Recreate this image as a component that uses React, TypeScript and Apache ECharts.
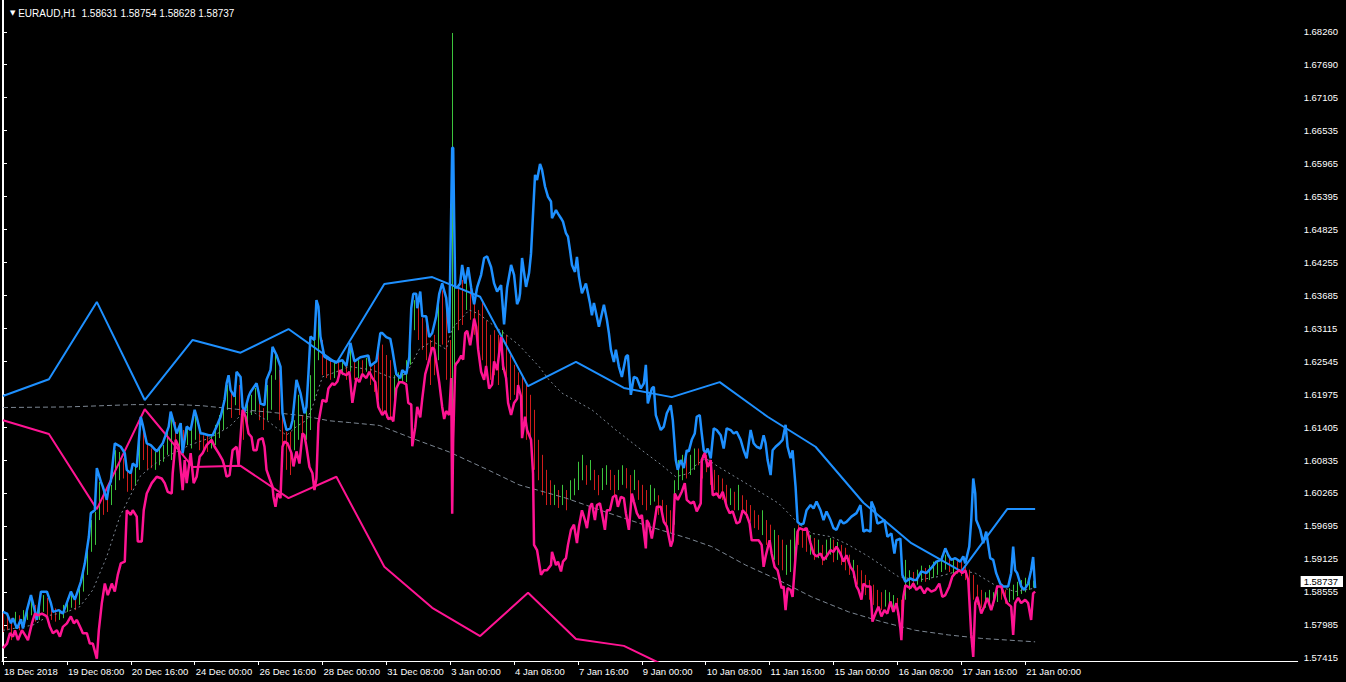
import { useEffect, useRef } from 'react';
import * as echarts from 'echarts';

// ---------- DATA (x = hourly bar index from 18 Dec 2018 00:00, y = price) ----------
const titleText = 'EURAUD,H1\u00a0\u00a01.58631 1.58754 1.58628 1.58737';
const lastClose = 1.58737;

const xTickIdx = [0, 32, 64, 96, 128, 160, 192, 224, 256, 288, 320, 352, 384, 416, 448, 480, 512];
const xLabels = ['18 Dec 2018', '19 Dec 08:00', '20 Dec 16:00', '24 Dec 00:00', '26 Dec 16:00', '28 Dec 00:00', '31 Dec 08:00', '3 Jan 00:00', '4 Jan 08:00', '7 Jan 16:00', '9 Jan 00:00', '10 Jan 08:00', '11 Jan 16:00', '15 Jan 00:00', '16 Jan 08:00', '17 Jan 16:00', '21 Jan 00:00'];

const yLabels = ['1.68260', '1.67690', '1.67105', '1.66535', '1.65965', '1.65395', '1.64825', '1.64255', '1.63685', '1.63115', '1.62545', '1.61975', '1.61405', '1.60835', '1.60265', '1.59695', '1.59125', '1.58555', '1.57985', '1.57415'];
const yMin = 1.57358;
const yMax = 1.68811;

const blueLine = [[0,1.5821],[2,1.5818],[4,1.5801],[5,1.5810],[7,1.5792],[9,1.5808],[10,1.5792],[12,1.5824],[14,1.5850],[15,1.5836],[17,1.5807],[19,1.5856],[22,1.5856],[24,1.5836],[25,1.5821],[28,1.5824],[30,1.5818],[34,1.5856],[36,1.5842],[39,1.5873],[41,1.5905],[43,1.5951],[44,1.5992],[46,1.5997],[47,1.6070],[49,1.6047],[50,1.6038],[52,1.6015],[53,1.6038],[54,1.6047],[56,1.6113],[59,1.6107],[61,1.6096],[62,1.6067],[64,1.6061],[65,1.6078],[67,1.6072],[69,1.6159],[70,1.6145],[72,1.6113],[74,1.6110],[77,1.6099],[80,1.6113],[83,1.6142],[84,1.6168],[87,1.6130],[89,1.6148],[90,1.6096],[92,1.6142],[94,1.6136],[96,1.6171],[97,1.6159],[99,1.6130],[100,1.6130],[103,1.6127],[105,1.6127],[107,1.6142],[109,1.6159],[111,1.6188],[112,1.6217],[113,1.6231],[114,1.6205],[116,1.6194],[117,1.6237],[119,1.6228],[120,1.6176],[121,1.6168],[123,1.6194],[124,1.6202],[127,1.6217],[128,1.6202],[129,1.6182],[131,1.6179],[132,1.6223],[134,1.6240],[135,1.6280],[137,1.6266],[139,1.6246],[140,1.6165],[142,1.6136],[144,1.6139],[145,1.6153],[147,1.6223],[149,1.6200],[151,1.6165],[152,1.6176],[153,1.6234],[154,1.6298],[156,1.6292],[157,1.6361],[158,1.6350],[159,1.6298],[161,1.6263],[164,1.6257],[167,1.6254],[170,1.6257],[172,1.6247],[174,1.6287],[176,1.6255],[179,1.6262],[183,1.6265],[184,1.6247],[187,1.6255],[189,1.6304],[190,1.6304],[192,1.6297],[194,1.6294],[195,1.6276],[197,1.6233],[199,1.6226],[200,1.6240],[202,1.6233],[203.5,1.6262],[204.5,1.6347],[205.5,1.6372],[207,1.6372],[207.5,1.6347],[209,1.6376],[210,1.6333],[212,1.6333],[213.5,1.6297],[215,1.6304],[217,1.6333],[218.5,1.6372],[220,1.6390],[222,1.6365],[223.5,1.6304],[225,1.6625],[225.5,1.6625],[226,1.6497],[226.5,1.6383],[227.5,1.6383],[229,1.6390],[230,1.6422],[231.5,1.6390],[233,1.6418],[234.5,1.6383],[236,1.6354],[237.5,1.6383],[239.5,1.6405],[241,1.6434],[242.5,1.6437],[244.5,1.6418],[246,1.6390],[247.5,1.6376],[249.5,1.6387],[251,1.6319],[252.5,1.6383],[254.5,1.6422],[256,1.6405],[257.5,1.6354],[258.5,1.6362],[259,1.6373],[260,1.6434],[262,1.6384],[263.5,1.6408],[264.5,1.6442],[265.5,1.6511],[266.5,1.6578],[267.5,1.6569],[269,1.6597],[270,1.6587],[271.5,1.6558],[273,1.6540],[274.5,1.6532],[275,1.6503],[277,1.6517],[278,1.6511],[279.5,1.6503],[280.5,1.6497],[282,1.6477],[283,1.6471],[284,1.6448],[285,1.6422],[286.5,1.6410],[287.5,1.6436],[288.5,1.6402],[290,1.6373],[292,1.6390],[294,1.6356],[295,1.6335],[296,1.6356],[297.5,1.6332],[298.5,1.6315],[301,1.6353],[302.5,1.6327],[303.5,1.6304],[304.5,1.6275],[306,1.6254],[307,1.6275],[308.5,1.6246],[310,1.6228],[312,1.6263],[313,1.6266],[314.5,1.6197],[316,1.6228],[317.5,1.6226],[319.5,1.6208],[321,1.6217],[322,1.6249],[323,1.6182],[325,1.6208],[326,1.6211],[327,1.6162],[329.5,1.6136],[331,1.6142],[332.5,1.6165],[334.5,1.6179],[335.5,1.6153],[337,1.6084],[338,1.6067],[339.5,1.6084],[341,1.6070],[342.5,1.6101],[343.5,1.6099],[345,1.6119],[346.5,1.6130],[347.5,1.6159],[349,1.6162],[350,1.6130],[351,1.6101],[352,1.6096],[353,1.6104],[354.5,1.6087],[356,1.6139],[357.5,1.6136],[359.5,1.6127],[361,1.6104],[362.5,1.6139],[364.5,1.6136],[366,1.6130],[367.5,1.6133],[369.5,1.6119],[371,1.6101],[372.5,1.6087],[374.5,1.6136],[376,1.6113],[377.5,1.6107],[379.5,1.6104],[381,1.6127],[382,1.6113],[383,1.6084],[384.5,1.6058],[385.5,1.6101],[387,1.6107],[389,1.6113],[390.5,1.6119],[392,1.6145],[393,1.6107],[394.5,1.6087],[395.5,1.6101],[397,1.6038],[398,1.5977],[399.5,1.5972],[401,1.5974],[402.5,1.5997],[404.5,1.6006],[406,1.6000],[407.5,1.6012],[409.5,1.5997],[411,1.5980],[412.5,1.5995],[414.5,1.5980],[416,1.5966],[417.5,1.5963],[419.5,1.5980],[421,1.5974],[422.5,1.5977],[425,1.5986],[427.5,1.5992],[429.5,1.6006],[431,1.5960],[432.5,1.5963],[434.5,1.5960],[435,1.6012],[436.5,1.6000],[438,1.5974],[440,1.5977],[441.5,1.5980],[443,1.5951],[445,1.5957],[446.5,1.5922],[447.5,1.5945],[449.5,1.5948],[450.5,1.5885],[452,1.5873],[454.5,1.5879],[456,1.5876],[457.5,1.5876],[460,1.5891],[462.5,1.5888],[465,1.5897],[467.5,1.5908],[470,1.5911],[472,1.5931],[473.5,1.5919],[475,1.5911],[477,1.5914],[479.5,1.5908],[481,1.5917],[482,1.5905],[484,1.5934],[485,1.5980],[486,1.6052],[487,1.6026],[487.5,1.5980],[489.5,1.5963],[491,1.5940],[492.5,1.5960],[494.5,1.5914],[496,1.5911],[497.5,1.5888],[499.5,1.5870],[501,1.5865],[503.5,1.5865],[505,1.5888],[506,1.5934],[507,1.5893],[508,1.5888],[510,1.5865],[511.5,1.5859],[513.5,1.5870],[515,1.5893],[516,1.5916],[517,1.5862]];

const pinkLine = [[0,1.5758],[2,1.5766],[3.5,1.5784],[5,1.5778],[6,1.5789],[7.5,1.5772],[9.5,1.5789],[11,1.5781],[12.5,1.5772],[14.5,1.5801],[16,1.5818],[17.5,1.5815],[19.5,1.5818],[22,1.5813],[23.5,1.5795],[25,1.5784],[27,1.5789],[28.5,1.5778],[30,1.5795],[32,1.5801],[34,1.5813],[35.5,1.5801],[37,1.5807],[39,1.5792],[40,1.5784],[42,1.5784],[43.5,1.5766],[45,1.5766],[47,1.5740],[48,1.5789],[49.5,1.5836],[51,1.5870],[52.5,1.5850],[54.5,1.5870],[56,1.5856],[57.5,1.5885],[59,1.5905],[61,1.5908],[62,1.5997],[64,1.5989],[65,1.5997],[67,1.5986],[67.5,1.5943],[69.5,1.5943],[70.5,1.5997],[72,1.6026],[74.5,1.6044],[77,1.6055],[79.5,1.6052],[81,1.6044],[82.5,1.6029],[84.5,1.6026],[85,1.6061],[86.5,1.6119],[88,1.6107],[90,1.6032],[91,1.6084],[92,1.6044],[94,1.6096],[95.5,1.6044],[97,1.6055],[98.5,1.6090],[100,1.6096],[102,1.6110],[104.5,1.6119],[106,1.6107],[108,1.6096],[110,1.6084],[111,1.6072],[112,1.6055],[113.5,1.6058],[115,1.6101],[117,1.6107],[118,1.6075],[119,1.6124],[120,1.6171],[121.5,1.6159],[123,1.6130],[124.5,1.6124],[125.5,1.6101],[127,1.6101],[128,1.6119],[130,1.6122],[131,1.6107],[132,1.6067],[133.5,1.6052],[135,1.6038],[135.5,1.6020],[136.5,1.6003],[137.5,1.6026],[139,1.6018],[140,1.6107],[141,1.6116],[142.5,1.6113],[144.5,1.6096],[145.5,1.6073],[147,1.6099],[148.5,1.6078],[150,1.6130],[151,1.6127],[152,1.6107],[153.5,1.6072],[155,1.6061],[156,1.6032],[157,1.6052],[158,1.6148],[160,1.6188],[162,1.6185],[163,1.6208],[165,1.6217],[166,1.6214],[167.5,1.6220],[169,1.6240],[170,1.6234],[172,1.6231],[173.5,1.6237],[175,1.6183],[177,1.6226],[178.5,1.6219],[180,1.6233],[182,1.6226],[183.5,1.6237],[185,1.6226],[186.5,1.6219],[188,1.6176],[190,1.6162],[191.5,1.6169],[193,1.6155],[194.5,1.6158],[195.5,1.6151],[197,1.6208],[198.5,1.6219],[200,1.6219],[202,1.6215],[203,1.6183],[204.5,1.6180],[205,1.6108],[206.5,1.6141],[207.5,1.6176],[209,1.6158],[210,1.6190],[211.5,1.6233],[213,1.6251],[215,1.6279],[216,1.6276],[217,1.6254],[218.5,1.6219],[220,1.6176],[221,1.6155],[222,1.6169],[223.5,1.6162],[224.5,1.6226],[225,1.5991],[225.5,1.6119],[226.5,1.6247],[227,1.6251],[228,1.6255],[229.5,1.6265],[230.5,1.6258],[231.5,1.6304],[232.5,1.6308],[234,1.6283],[235,1.6304],[236,1.6329],[237,1.6315],[238,1.6276],[239.5,1.6237],[241,1.6223],[242,1.6247],[243.5,1.6208],[245,1.6215],[246,1.6255],[247.5,1.6240],[249.5,1.6297],[250.5,1.6247],[252,1.6226],[253,1.6183],[254.5,1.6162],[256,1.6183],[257.5,1.6190],[258,1.6214],[259.5,1.6194],[260,1.6122],[261.5,1.6159],[262.5,1.6136],[264.5,1.6119],[265.5,1.6061],[266,1.5937],[267.5,1.5928],[269.5,1.5885],[271,1.5893],[272.5,1.5893],[274.5,1.5902],[275,1.5925],[277,1.5902],[278,1.5908],[279.5,1.5891],[280.5,1.5908],[282,1.5914],[283,1.5937],[284.5,1.5963],[286,1.5972],[287.5,1.5940],[288.5,1.5969],[290,1.5997],[291.5,1.5980],[292.5,1.5966],[294,1.6003],[295,1.6009],[296.5,1.5980],[297.5,1.6006],[299,1.6009],[300,1.5992],[301.5,1.5963],[302.5,1.5997],[304,1.5997],[305.5,1.6020],[307,1.6023],[308,1.6003],[309.5,1.6020],[311,1.6018],[312,1.5992],[313.5,1.5963],[315,1.6026],[316,1.6012],[317.5,1.5992],[319,1.5983],[320,1.5989],[322,1.5931],[322.5,1.5980],[323.5,1.5974],[325,1.5948],[326,1.5969],[327.5,1.6003],[329.5,1.6003],[331,1.5977],[332.5,1.5969],[334.5,1.5934],[335.5,1.5945],[336.5,1.6026],[338,1.6015],[340,1.6029],[341.5,1.6044],[342.5,1.6015],[344.5,1.6009],[346,1.6012],[347.5,1.5995],[349.5,1.6009],[350,1.6084],[351.5,1.6096],[353,1.6072],[354.5,1.6084],[355.5,1.6023],[357.5,1.6026],[359,1.6018],[360.5,1.6029],[362.5,1.6003],[364,1.5992],[365.5,1.5995],[367.5,1.5974],[369,1.5977],[370.5,1.5997],[372.5,1.5989],[374,1.5974],[375,1.5945],[377,1.5945],[378.5,1.5945],[380,1.5937],[381,1.5899],[382,1.5917],[384,1.5945],[385,1.5922],[386.5,1.5899],[388,1.5893],[390,1.5862],[391,1.5865],[392,1.5824],[393,1.5862],[394.5,1.5859],[395.5,1.5847],[397,1.5917],[398,1.5960],[399,1.5966],[401,1.5963],[402.5,1.5966],[404.5,1.5940],[406,1.5922],[407.5,1.5917],[409.5,1.5922],[411,1.5911],[412.5,1.5917],[414.5,1.5928],[416,1.5925],[417.5,1.5934],[419.5,1.5922],[421,1.5908],[422.5,1.5919],[424.5,1.5899],[426,1.5891],[427.5,1.5865],[428.5,1.5859],[430,1.5842],[431,1.5870],[432.5,1.5865],[434.5,1.5865],[435.5,1.5804],[437,1.5818],[438.5,1.5830],[440,1.5813],[441.5,1.5824],[443,1.5818],[444.5,1.5839],[446,1.5821],[447.5,1.5836],[448.5,1.5818],[449.5,1.5792],[450,1.5772],[451,1.5847],[452,1.5867],[454.5,1.5862],[456,1.5870],[457.5,1.5859],[459.5,1.5865],[461.5,1.5853],[463,1.5862],[465,1.5856],[467,1.5859],[469,1.5870],[470.5,1.5847],[472,1.5850],[474,1.5865],[475.5,1.5882],[477,1.5888],[479,1.5893],[480.5,1.5888],[482,1.5893],[483.5,1.5876],[485,1.5781],[486,1.5743],[487,1.5836],[488,1.5847],[490,1.5818],[491.5,1.5830],[493,1.5845],[495,1.5824],[496.5,1.5842],[498,1.5865],[500,1.5865],[501.5,1.5850],[503,1.5836],[505,1.5830],[506,1.5781],[507,1.5836],[508.5,1.5845],[510,1.5836],[512,1.5842],[513.5,1.5836],[515,1.5807],[516,1.5853],[517,1.5856]];

const dayIdx = [0, 23, 47, 71, 95, 119, 143, 167, 191, 215, 239, 263, 287, 311, 335, 359, 383, 407, 431, 455, 480, 503, 517];
const dailyHigh = [1.6195, 1.6224, 1.6358, 1.6188, 1.6292, 1.6270, 1.6311, 1.6252, 1.6389, 1.6401, 1.6367, 1.6212, 1.6254, 1.6209, 1.6193, 1.6219, 1.6159, 1.6107, 1.6010, 1.5940, 1.5891, 1.5999, 1.5999];
const dailyLow = [1.6153, 1.6129, 1.5999, 1.6172, 1.6072, 1.6074, 1.6018, 1.6055, 1.5899, 1.5828, 1.5779, 1.5854, 1.5774, 1.5762, 1.5722, 1.5705, 1.5690, 1.5680, 1.5668, 1.5660, 1.5650, 1.5655, 1.5655];

const slowMA = [[0,1.6175],[32,1.6176],[48.5,1.6178],[65,1.6180],[88.5,1.6180],[100,1.6178],[117,1.6172],[133.5,1.6167],[150,1.6161],[163.5,1.6152],[173.5,1.6149],[188.5,1.6144],[207,1.6119],[223.5,1.6098],[243.5,1.6066],[258.5,1.6041],[282,1.6018],[303.5,1.5992],[323.5,1.5969],[343.5,1.5948],[355,1.5934],[372,1.5902],[388.5,1.5876],[405,1.5847],[423.5,1.5821],[440,1.5804],[457,1.5789],[473.5,1.5781],[490,1.5775],[517,1.5769]];

const fastMA = [[0,1.5789],[15,1.5798],[23.5,1.5815],[32,1.5821],[38.5,1.5830],[45,1.5859],[52,1.5917],[58.5,1.5986],[63.5,1.6020],[68.5,1.6055],[75,1.6075],[82,1.6090],[88.5,1.6101],[93.5,1.6110],[103.5,1.6122],[113.5,1.6142],[120,1.6165],[125,1.6168],[132,1.6153],[138.5,1.6136],[142,1.6127],[147,1.6142],[152,1.6153],[155,1.6176],[160,1.6228],[167,1.6237],[173.5,1.6246],[185,1.6240],[195,1.6226],[202,1.6233],[208.5,1.6276],[215,1.6290],[222,1.6276],[225,1.6312],[233.5,1.6344],[238.5,1.6337],[245,1.6319],[252,1.6301],[258.5,1.6283],[268.5,1.6246],[273.5,1.6223],[280,1.6200],[295,1.6171],[307,1.6136],[320,1.6101],[330,1.6075],[337,1.6055],[343.5,1.6061],[347,1.6075],[352,1.6087],[358.5,1.6072],[372,1.6044],[388.5,1.6009],[398.5,1.5974],[405,1.5957],[415,1.5951],[423.5,1.5937],[433.5,1.5917],[448.5,1.5882],[458.5,1.5876],[468.5,1.5882],[480,1.5893],[487,1.5888],[497,1.5867],[507,1.5856],[517,1.5862]];

// [bar index, low, high, up(1)/down(0)]
const priceBars = [[0,1.5786,1.5821,0],[2,1.5789,1.5815,0],[4,1.5772,1.5810,0],[6,1.5792,1.5821,1],[8,1.5789,1.5815,0],[10,1.5798,1.5824,1],[12,1.5807,1.5833,1],[14,1.5815,1.5845,1],[16,1.5804,1.5833,0],[18,1.5807,1.5842,1],[20,1.5821,1.5850,1],[22,1.5815,1.5845,0],[24,1.5807,1.5833,0],[26,1.5804,1.5827,0],[28,1.5807,1.5824,1],[30,1.5810,1.5833,1],[32,1.5821,1.5845,1],[34,1.5828,1.5856,1],[36,1.5824,1.5850,0],[38,1.5833,1.5867,1],[40,1.5856,1.5897,1],[42,1.5885,1.5937,1],[44,1.5925,1.5980,1],[46,1.5937,1.5994,1],[48,1.5980,1.6046,1],[50,1.5989,1.6032,0],[52,1.5994,1.6023,0],[54,1.6006,1.6041,1],[56,1.6032,1.6101,1],[58,1.6049,1.6098,1],[60,1.6052,1.6087,0],[62,1.6029,1.6067,0],[64,1.6032,1.6061,0],[66,1.6041,1.6075,1],[68,1.6067,1.6145,1],[70,1.6084,1.6136,0],[72,1.6067,1.6110,0],[74,1.6070,1.6104,0],[76,1.6067,1.6098,1],[78,1.6075,1.6104,1],[80,1.6081,1.6110,1],[82,1.6093,1.6136,1],[84,1.6084,1.6162,1],[86,1.6110,1.6150,0],[88,1.6101,1.6139,1],[90,1.6093,1.6136,0],[92,1.6110,1.6139,1],[94,1.6104,1.6136,1],[96,1.6119,1.6162,1],[98,1.6101,1.6136,0],[100,1.6101,1.6127,0],[102,1.6098,1.6127,0],[104,1.6104,1.6127,1],[106,1.6110,1.6145,1],[108,1.6122,1.6162,1],[110,1.6136,1.6188,1],[112,1.6171,1.6214,1],[114,1.6157,1.6202,0],[116,1.6179,1.6223,1],[118,1.6162,1.6214,0],[120,1.6119,1.6171,0],[122,1.6145,1.6188,1],[124,1.6162,1.6197,1],[126,1.6168,1.6209,1],[128,1.6153,1.6197,0],[130,1.6136,1.6174,0],[132,1.6153,1.6214,1],[134,1.6171,1.6231,1],[136,1.6223,1.6266,1],[138,1.6153,1.6240,0],[140,1.6101,1.6162,0],[142,1.6067,1.6133,0],[144,1.6058,1.6133,0],[146,1.6101,1.6153,1],[148,1.6119,1.6197,1],[150,1.6119,1.6162,0],[152,1.6119,1.6171,1],[154,1.6136,1.6231,1],[156,1.6188,1.6292,1],[158,1.6257,1.6347,1],[160,1.6231,1.6292,0],[162,1.6226,1.6260,0],[164,1.6223,1.6257,0],[166,1.6226,1.6254,1],[168,1.6229,1.6254,0],[170,1.6231,1.6257,1],[172,1.6223,1.6249,0],[174,1.6237,1.6278,1],[176,1.6223,1.6254,0],[178,1.6226,1.6257,1],[180,1.6231,1.6257,0],[182,1.6237,1.6261,1],[184,1.6214,1.6249,0],[186,1.6202,1.6249,0],[188,1.6188,1.6292,0],[190,1.6162,1.6284,0],[192,1.6157,1.6266,0],[194,1.6153,1.6257,0],[196,1.6162,1.6231,1],[198,1.6214,1.6236,1],[200,1.6219,1.6240,1],[202,1.6219,1.6257,1],[204,1.6249,1.6344,1],[206,1.6309,1.6361,1],[208,1.6292,1.6361,0],[210,1.6275,1.6330,0],[212,1.6257,1.6326,0],[214,1.6214,1.6292,0],[216,1.6231,1.6301,0],[218,1.6257,1.6361,1],[220,1.6284,1.6378,0],[222,1.6223,1.6361,0],[224,1.6188,1.6292,0],[225,1.6006,1.6824,1],[226,1.6205,1.6462,1],[228,1.6309,1.6387,0],[230,1.6318,1.6396,0],[232,1.6344,1.6404,1],[234,1.6327,1.6396,0],[236,1.6301,1.6361,0],[238,1.6283,1.6344,0],[240,1.6257,1.6361,0],[242,1.6231,1.6326,0],[244,1.6223,1.6301,0],[246,1.6231,1.6309,0],[248,1.6214,1.6301,0],[250,1.6240,1.6309,1],[252,1.6214,1.6301,0],[254,1.6188,1.6266,0],[256,1.6197,1.6249,0],[258,1.6202,1.6236,0],[260,1.6153,1.6231,0],[262,1.6119,1.6214,0],[264,1.6119,1.6197,0],[266,1.6067,1.6171,0],[268,1.6049,1.6119,0],[270,1.6023,1.6093,0],[272,1.6006,1.6067,0],[274,1.6006,1.6049,0],[276,1.6006,1.6041,1],[278,1.6001,1.6032,0],[280,1.6006,1.6041,1],[282,1.5997,1.6032,0],[284,1.6015,1.6049,1],[286,1.6023,1.6052,1],[288,1.6032,1.6081,1],[290,1.6049,1.6093,1],[292,1.6041,1.6075,0],[294,1.6049,1.6084,1],[296,1.6032,1.6067,0],[298,1.6023,1.6058,0],[300,1.6032,1.6070,1],[302,1.6041,1.6075,1],[304,1.6032,1.6067,0],[306,1.6023,1.6058,0],[308,1.6032,1.6067,1],[310,1.6041,1.6075,1],[312,1.6035,1.6070,0],[314,1.6015,1.6058,0],[316,1.6032,1.6067,1],[318,1.6015,1.6049,0],[320,1.6006,1.6041,0],[322,1.5997,1.6032,0],[324,1.6006,1.6041,1],[326,1.6012,1.6035,1],[328,1.5989,1.6023,0],[330,1.5980,1.6015,0],[332,1.5972,1.6006,0],[334,1.5958,1.5997,0],[336,1.5972,1.6049,1],[338,1.6032,1.6084,1],[340,1.6049,1.6093,1],[342,1.6052,1.6093,0],[344,1.6058,1.6093,1],[346,1.6067,1.6104,1],[348,1.6075,1.6104,0],[350,1.6052,1.6093,0],[352,1.6063,1.6093,0],[354,1.6041,1.6075,0],[356,1.6032,1.6067,0],[358,1.6023,1.6058,0],[360,1.6015,1.6052,0],[362,1.6006,1.6041,0],[364,1.6006,1.6035,1],[366,1.5997,1.6029,0],[368,1.5997,1.6041,1],[370,1.5989,1.6023,0],[372,1.5984,1.6015,0],[374,1.5977,1.6006,0],[376,1.5966,1.5997,0],[378,1.5963,1.5989,0],[380,1.5954,1.5997,1],[382,1.5937,1.5980,0],[384,1.5928,1.5972,0],[386,1.5911,1.5963,1],[388,1.5902,1.5954,0],[390,1.5893,1.5946,0],[392,1.5885,1.5937,1],[394,1.5890,1.5946,1],[396,1.5902,1.5966,1],[398,1.5937,1.5972,0],[400,1.5932,1.5966,0],[402,1.5925,1.5960,0],[404,1.5920,1.5954,1],[406,1.5911,1.5949,0],[408,1.5914,1.5946,1],[410,1.5902,1.5937,0],[412,1.5911,1.5946,1],[414,1.5920,1.5949,1],[416,1.5907,1.5946,0],[418,1.5911,1.5942,1],[420,1.5902,1.5937,0],[422,1.5893,1.5932,0],[424,1.5885,1.5920,0],[426,1.5880,1.5911,1],[428,1.5868,1.5902,0],[430,1.5859,1.5893,0],[432,1.5850,1.5885,0],[434,1.5842,1.5876,0],[436,1.5833,1.5868,0],[438,1.5828,1.5859,0],[440,1.5824,1.5855,0],[442,1.5830,1.5859,1],[444,1.5828,1.5855,1],[446,1.5824,1.5850,1],[448,1.5815,1.5845,0],[450,1.5781,1.5842,0],[452,1.5842,1.5911,1],[454,1.5859,1.5893,1],[456,1.5862,1.5890,0],[458,1.5868,1.5894,1],[460,1.5873,1.5901,1],[462,1.5873,1.5897,0],[464,1.5876,1.5902,1],[466,1.5880,1.5908,1],[468,1.5885,1.5911,1],[470,1.5890,1.5918,1],[472,1.5894,1.5920,1],[474,1.5890,1.5914,0],[476,1.5885,1.5911,1],[478,1.5887,1.5911,0],[480,1.5883,1.5908,0],[482,1.5876,1.5902,0],[484,1.5859,1.5894,0],[486,1.5842,1.5885,0],[488,1.5833,1.5868,0],[490,1.5828,1.5859,0],[492,1.5828,1.5855,1],[494,1.5833,1.5859,1],[496,1.5831,1.5855,1],[498,1.5838,1.5859,1],[500,1.5842,1.5862,0],[502,1.5835,1.5859,0],[504,1.5838,1.5862,1],[506,1.5842,1.5868,1],[508,1.5848,1.5873,1],[510,1.5852,1.5876,1],[512,1.5855,1.5880,1],[514,1.5859,1.5885,1],[516,1.5863,1.5875,1]];

// ---------- STYLE ----------
const FONT = '"Liberation Sans", Arial, sans-serif';
const WHITE = '#ffffff';
const BLUE = '#1e90ff';
const PINK = '#ff1493';
const MA_GRAY = '#7d8793';
const UP = '#3cc43c';
const DOWN = '#d01c1c';
const AXIS_FONT = 9.5;

const yFirst = Number(yLabels[0]);
const yLast = Number(yLabels[yLabels.length - 1]);
const yStep = (yFirst - yLast) / (yLabels.length - 1);
const yTickVals = yLabels.map((_, i) => yFirst - yStep * i);

const daily = (vals: number[]) => dayIdx.map((d, i) => [d, vals[i]]);

export default function App() {
  const ref = useRef<HTMLDivElement>(null);

  useEffect(() => {
    if (!ref.current) return;
    const chart = echarts.init(ref.current, null, { renderer: 'svg' });
    const option: any = {
      animation: false,
      backgroundColor: '#000000',
      title: {
        left: 5,
        top: 3,
        text: '{tri|\u25BC} ' + titleText,
        textStyle: {
          color: WHITE,
          fontSize: 10,
          fontWeight: 'normal',
          fontFamily: FONT,
          rich: { tri: { fontSize: 7, color: WHITE, fontFamily: 'DejaVu Sans' } },
        },
      },
      grid: { left: 2, right: 46, top: 0, bottom: 21, containLabel: false },
      xAxis: {
        type: 'value',
        min: -0.5,
        max: 648.5,
        splitLine: { show: false },
        axisLine: { show: true, lineStyle: { color: WHITE, width: 1 } },
        axisTick: { show: true, customValues: xTickIdx, length: 4, lineStyle: { color: WHITE } },
        axisLabel: {
          customValues: xTickIdx,
          color: WHITE,
          fontSize: AXIS_FONT,
          fontFamily: FONT,
          align: 'left',
          margin: 5,
          padding: [0, 0, 0, 1],
          formatter: (v: number) => {
            const i = xTickIdx.indexOf(Math.round(v));
            return i >= 0 ? xLabels[i] : '';
          },
        },
      },
      yAxis: [
        {
          type: 'value',
          position: 'right',
          min: yMin,
          max: yMax,
          splitLine: { show: false },
          axisLine: { show: true, lineStyle: { color: WHITE, width: 1 } },
          axisTick: { show: true, customValues: yTickVals, length: 4, lineStyle: { color: WHITE } },
          axisLabel: {
            customValues: yTickVals,
            color: WHITE,
            fontSize: AXIS_FONT,
            fontFamily: FONT,
            margin: 6,
            formatter: (v: number) => {
              const i = Math.round((yFirst - v) / yStep);
              return yLabels[i] ?? '';
            },
          },
        },
        {
          type: 'value',
          position: 'left',
          min: yMin,
          max: yMax,
          splitLine: { show: false },
          axisLine: { show: true, lineStyle: { color: WHITE, width: 1 } },
          axisTick: { show: false },
          axisLabel: { show: false },
        },
        {
          type: 'value',
          position: 'right',
          min: yMin,
          max: yMax,
          splitLine: { show: false },
          axisLine: { show: false },
          axisTick: { show: false },
          axisLabel: {
            customValues: [lastClose],
            color: '#000000',
            backgroundColor: WHITE,
            fontSize: AXIS_FONT,
            fontFamily: FONT,
            margin: 3,
            padding: [1, 5, 0, 3],
            formatter: (v: number) => v.toFixed(5),
          },
        },
      ],
      series: [
        {
          type: 'custom',
          name: 'bars',
          z: 1,
          clip: true,
          data: priceBars,
          encode: { x: 0, y: [1, 2] },
          renderItem: (_params: any, api: any) => {
            const i = api.value(0);
            const lo = api.coord([i, api.value(1)]);
            const hi = api.coord([i, api.value(2)]);
            const x = Math.round(lo[0]) + 0.5;
            return {
              type: 'line',
              shape: { x1: x, y1: lo[1], x2: x, y2: hi[1] },
              style: { stroke: api.value(3) ? UP : DOWN, lineWidth: 1 },
            };
          },
        },
        {
          type: 'line',
          name: 'slowMA',
          z: 2,
          data: slowMA,
          showSymbol: false,
          symbol: 'none',
          lineStyle: { color: MA_GRAY, width: 1, type: [5, 3] },
        },
        {
          type: 'line',
          name: 'fastMA',
          z: 2,
          data: fastMA,
          showSymbol: false,
          symbol: 'none',
          lineStyle: { color: MA_GRAY, width: 1, type: [2, 3] },
        },
        {
          type: 'line',
          name: 'dailyHigh',
          z: 3,
          data: daily(dailyHigh),
          showSymbol: false,
          symbol: 'none',
          clip: true,
          lineStyle: { color: BLUE, width: 2 },
        },
        {
          type: 'line',
          name: 'dailyLow',
          z: 3,
          data: daily(dailyLow),
          showSymbol: false,
          symbol: 'none',
          clip: true,
          lineStyle: { color: PINK, width: 2 },
        },
        {
          type: 'line',
          name: 'upper',
          z: 4,
          data: blueLine,
          showSymbol: false,
          symbol: 'none',
          lineStyle: { color: BLUE, width: 2.5 },
        },
        {
          type: 'line',
          name: 'lower',
          z: 4,
          data: pinkLine,
          showSymbol: false,
          symbol: 'none',
          lineStyle: { color: PINK, width: 2.5 },
        },
      ],
    };
    chart.setOption(option);
    return () => chart.dispose();
  }, []);

  return (
    <div
      ref={ref}
      style={{ position: 'fixed', left: 0, top: 0, width: 1346, height: 682, background: '#000' }}
    />
  );
}
